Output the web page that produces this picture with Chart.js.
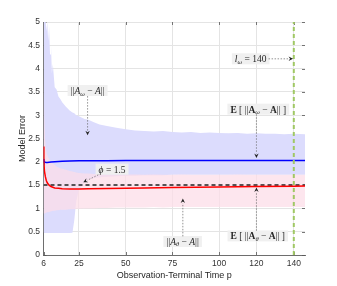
<!DOCTYPE html>
<html lang="en">
<head>
    <meta charset="UTF-8">
    <title>Model Error vs Observation-Terminal Time</title>
    <script src="https://cdn.jsdelivr.net/npm/chart.js"></script>
    <style>
        body { margin: 0; background: white; }
        canvas { display: block; }
    </style>
</head>
<body>
    <canvas id="errChart" width="337" height="286"></canvas>

    <script>
        // x ticks and axis range
        const xTicks = [6, 25, 50, 75, 100, 120, 140];
        const yTicks = [0, 0.5, 1, 1.5, 2, 2.5, 3, 3.5, 4, 4.5, 5];

        // sample clouds (upper / lower envelope)
        const cloudX   = [6, 6.4, 6.8, 7.2, 7.6, 8, 8.5, 9, 9.5, 10, 10.5, 11, 12, 13, 14, 15, 16, 18, 20, 21.5, 22.5, 23.5, 25, 28, 30, 33, 36, 40, 45, 50, 55, 60, 65, 70, 75, 80, 85, 90, 95, 100, 105, 110, 115, 120, 125, 130, 135, 140, 146];
        const blueTop  = [5, 5, 5, 5, 4.8, 5, 4.6, 4.9, 4.3, 4.5, 3.9, 4.1, 3.6, 3.55, 3.4, 3.35, 3.28, 3.18, 3.1, 3.06, 3.04, 3.0, 2.98, 2.92, 2.9, 2.85, 2.8, 2.77, 2.73, 2.7, 2.67, 2.66, 2.65, 2.66, 2.64, 2.63, 2.64, 2.62, 2.63, 2.62, 2.61, 2.62, 2.6, 2.61, 2.6, 2.6, 2.59, 2.6, 2.59];
        const blueLow  = [0.47, 0.47, 0.47, 0.47, 0.47, 0.47, 0.47, 0.47, 0.47, 0.47, 0.47, 0.47, 0.47, 0.47, 0.47, 0.47, 0.47, 0.47, 0.47, 0.48, 0.75, 1.15, 1.4, 1.55, 1.62, 1.65, 1.67, 1.68, 1.69, 1.7, 1.7, 1.71, 1.71, 1.71, 1.72, 1.72, 1.72, 1.72, 1.72, 1.72, 1.72, 1.72, 1.72, 1.72, 1.72, 1.72, 1.72, 1.72, 1.72];
        const pinkTop  = [4.0, 3.0, 2.5, 2.3, 2.2, 2.15, 2.1, 2.06, 2.03, 2.0, 1.98, 1.96, 1.93, 1.9, 1.88, 1.86, 1.85, 1.83, 1.8, 1.79, 1.78, 1.77, 1.76, 1.75, 1.75, 1.74, 1.74, 1.73, 1.73, 1.73, 1.73, 1.72, 1.73, 1.72, 1.72, 1.73, 1.72, 1.72, 1.72, 1.72, 1.72, 1.73, 1.72, 1.72, 1.72, 1.72, 1.72, 1.72, 1.72];
        const pinkLow  = [0.9, 0.88, 0.9, 0.9, 0.91, 0.92, 0.92, 0.93, 0.93, 0.94, 0.94, 0.95, 0.95, 0.96, 0.96, 0.97, 0.97, 0.97, 0.98, 0.98, 0.98, 0.99, 0.99, 1.0, 1.0, 1.0, 1.01, 1.01, 1.02, 1.02, 1.02, 1.02, 1.03, 1.02, 1.03, 1.03, 1.03, 1.03, 1.03, 1.03, 1.03, 1.03, 1.03, 1.03, 1.03, 1.03, 1.03, 1.03, 1.03];

        // mean curves
        const lineX    = [6, 6.2, 6.5, 7, 7.5, 8, 9, 10, 12, 14, 16, 20, 25, 30, 40, 50, 60, 75, 100, 120, 140, 146];
        const blueMean = [2.06, 2.03, 2.0, 1.99, 1.985, 1.985, 1.99, 1.995, 2.0, 2.005, 2.01, 2.015, 2.02, 2.02, 2.025, 2.03, 2.03, 2.03, 2.03, 2.03, 2.03, 2.03];
        const redMean  = [2.33, 2.0, 1.8, 1.68, 1.6, 1.55, 1.5, 1.47, 1.44, 1.43, 1.42, 1.415, 1.415, 1.42, 1.425, 1.43, 1.44, 1.45, 1.46, 1.47, 1.475, 1.48];

        const phiX = [6, 146];
        const phiY = [1.5, 1.5];
        const lOmega = 140;

        const pts = (xs, ys) => xs.map((v, i) => ({ x: v, y: ys[i] }));

        // text boxes with arrows, in data coordinates
        const notes = [
            { parts: [['||', 'n'], ['A', 'i'], ['ω', 'sub'], [' − ', 'n'], ['A', 'i'], ['||', 'n']],
              at: [29.6, 3.53], from: [29.6, 3.41], to: [29.6, 2.57] },
            { parts: [['l', 'i'], ['ω', 'sub'], [' = 140', 'n']],
              at: [116.9, 4.21], from: [126.5, 4.21], to: [139.6, 4.21] },
            { parts: [['E', 'b'], [' [ ||', 'n'], ['A', 'b'], ['ω', 'sub'], [' − ', 'n'], ['A', 'b'], ['|| ]', 'n']],
              at: [121, 3.13], from: [120, 3.02], to: [120, 2.08] },
            { parts: [['ϕ', 'i'], [' = 1.5', 'n']],
              at: [42.7, 1.84], from: [36.8, 1.75], to: [27.3, 1.56] },
            { parts: [['||', 'n'], ['A', 'i'], ['θ', 'sub'], [' − ', 'n'], ['A', 'i'], ['||', 'n']],
              at: [80.5, 0.29], from: [80.6, 0.4], to: [80.6, 1.21] },
            { parts: [['E', 'b'], [' [ ||', 'n'], ['A', 'b'], ['θ', 'sub'], [' − ', 'n'], ['A', 'b'], ['|| ]', 'n']],
              at: [120.7, 0.41], from: [120, 0.52], to: [120, 1.45] }
        ];

        const fonts = {
            n: '9.5px "Liberation Serif"',
            i: 'italic 9.5px "Liberation Serif"',
            b: 'bold 9.5px "Liberation Serif"',
            sub: 'italic 6.5px "Liberation Serif"'
        };

        function drawArrow(ctx, x1, y1, x2, y2) {
            const ang = Math.atan2(y2 - y1, x2 - x1);
            const hl = 4.5, hw = 2.2;
            const bx = x2 - hl * Math.cos(ang), by = y2 - hl * Math.sin(ang);
            ctx.save();
            ctx.strokeStyle = '#666';
            ctx.lineWidth = 0.7;
            ctx.setLineDash([1.5, 1.5]);
            ctx.beginPath();
            ctx.moveTo(x1, y1);
            ctx.lineTo(bx, by);
            ctx.stroke();
            ctx.setLineDash([]);
            ctx.fillStyle = '#222';
            ctx.beginPath();
            ctx.moveTo(x2, y2);
            ctx.lineTo(bx - hw * Math.sin(ang), by + hw * Math.cos(ang));
            ctx.lineTo(x2 - 3 * Math.cos(ang), y2 - 3 * Math.sin(ang));
            ctx.lineTo(bx + hw * Math.sin(ang), by - hw * Math.cos(ang));
            ctx.closePath();
            ctx.fill();
            ctx.restore();
        }

        function drawNote(ctx, note, sx, sy) {
            const cx = sx.getPixelForValue(note.at[0]);
            const cy = sy.getPixelForValue(note.at[1]);
            let w = 0;
            note.parts.forEach(p => { ctx.font = fonts[p[1]]; w += ctx.measureText(p[0]).width; });
            ctx.fillStyle = '#f0f0f0';
            ctx.fillRect(cx - w / 2 - 3, cy - 5.5, w + 6, 11);
            let px = cx - w / 2;
            ctx.fillStyle = '#262626';
            ctx.textBaseline = 'alphabetic';
            ctx.textAlign = 'left';
            note.parts.forEach(p => {
                ctx.font = fonts[p[1]];
                ctx.fillText(p[0], px, p[1] === 'sub' ? cy + 5 : cy + 3.5);
                px += ctx.measureText(p[0]).width;
            });
            drawArrow(ctx, sx.getPixelForValue(note.from[0]), sy.getPixelForValue(note.from[1]),
                      sx.getPixelForValue(note.to[0]), sy.getPixelForValue(note.to[1]));
        }

        const decorations = {
            id: 'decorations',
            beforeDatasetsDraw(chart) {
                const { ctx, chartArea: a, scales: { x, y } } = chart;
                ctx.save();
                ctx.strokeStyle = '#555';
                ctx.lineWidth = 0.8;
                ctx.beginPath();
                xTicks.forEach(v => {
                    const p = Math.round(x.getPixelForValue(v)) + 0.5;
                    ctx.moveTo(p, a.bottom); ctx.lineTo(p, a.bottom - 3);
                    ctx.moveTo(p, a.top); ctx.lineTo(p, a.top + 3);
                });
                yTicks.forEach(v => {
                    const p = Math.round(y.getPixelForValue(v)) + 0.5;
                    ctx.moveTo(a.left, p); ctx.lineTo(a.left + 3, p);
                    ctx.moveTo(a.right, p); ctx.lineTo(a.right - 3, p);
                });
                ctx.stroke();
                ctx.restore();
            },
            afterDatasetsDraw(chart) {
                const { ctx, scales: { x, y } } = chart;
                ctx.save();
                notes.forEach(n => drawNote(ctx, n, x, y));
                ctx.restore();
            }
        };

        const base = { pointRadius: 0, tension: 0, borderWidth: 0, fill: false };

        new Chart(document.getElementById('errChart'), {
            type: 'line',
            data: {
                datasets: [
                    { ...base, data: pts(cloudX, blueLow), order: 20 },
                    { ...base, data: pts(cloudX, blueTop), fill: '-1', backgroundColor: 'rgb(220,220,253)', order: 19 },
                    { ...base, data: pts(cloudX, pinkLow), order: 18 },
                    { ...base, data: pts(cloudX, pinkTop), fill: '-1', backgroundColor: 'rgba(252,222,232,0.75)', order: 17 },
                    { ...base, data: pts(lineX, blueMean), borderColor: '#0000ff', borderWidth: 1.5, order: 4 },
                    { ...base, data: pts(phiX, phiY), borderColor: '#222', borderWidth: 1.5, borderDash: [4, 3], order: 3 },
                    { ...base, data: pts(lineX, redMean), borderColor: '#ff0000', borderWidth: 1.5, order: 2 },
                    { ...base, data: [{ x: lOmega, y: 0 }, { x: lOmega, y: 5 }], borderColor: 'rgb(160,200,100)', borderWidth: 2, borderDash: [4, 3], order: 1 }
                ]
            },
            options: {
                responsive: false,
                animation: false,
                devicePixelRatio: 1,
                layout: { padding: { top: 22, right: 32, left: 0, bottom: 0 } },
                plugins: { legend: { display: false }, tooltip: { enabled: false } },
                scales: {
                    x: {
                        type: 'linear',
                        min: 6, max: 146,
                        afterBuildTicks: s => { s.ticks = xTicks.map(v => ({ value: v })); },
                        afterFit: s => { s.height = 31; },
                        ticks: { color: '#333', font: { family: 'Liberation Sans', size: 8.5 }, padding: 4, maxRotation: 0, autoSkip: false },
                        grid: { color: '#e4e4e4', drawTicks: false },
                        border: { color: '#6e6e6e', width: 1 },
                        title: { display: true, text: 'Observation-Terminal Time p', color: '#262626', font: { family: 'Liberation Sans', size: 9 }, padding: { top: 2, bottom: 5 } }
                    },
                    y: {
                        min: 0, max: 5,
                        afterBuildTicks: s => { s.ticks = yTicks.map(v => ({ value: v })); },
                        afterFit: s => { s.width = 43.5; },
                        ticks: { color: '#333', font: { family: 'Liberation Sans', size: 8.5 }, padding: 3.5, callback: v => String(v) },
                        grid: { color: '#e4e4e4', drawTicks: false },
                        border: { color: '#6e6e6e', width: 1 },
                        title: { display: true, text: 'Model Error', color: '#262626', font: { family: 'Liberation Sans', size: 9 }, padding: { top: 17, bottom: 0 } }
                    }
                }
            },
            plugins: [decorations]
        });
    </script>
</body>
</html>
